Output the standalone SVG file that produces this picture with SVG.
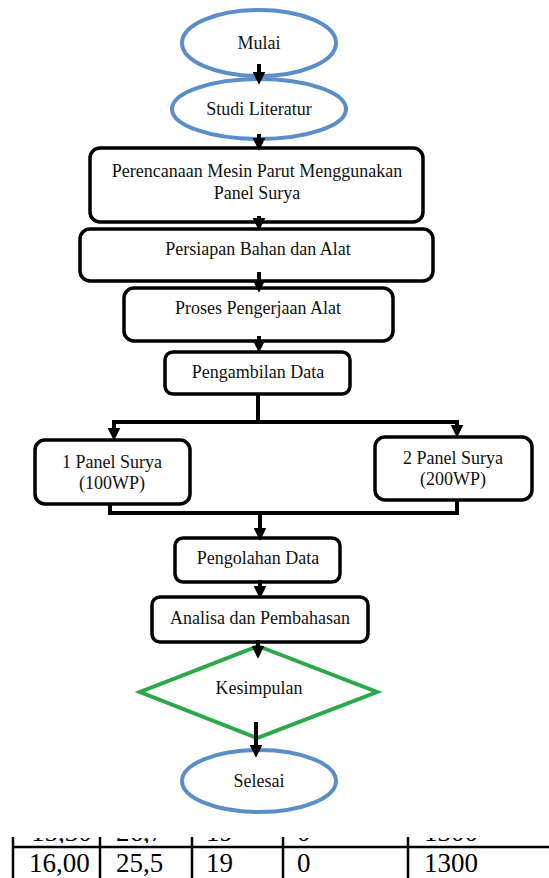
<svg xmlns="http://www.w3.org/2000/svg" width="549" height="878" viewBox="0 0 549 878">
<style>
.term{fill:none;stroke:#5b8dc8;stroke-width:4}
.box{fill:#fff;stroke:#000;stroke-width:3.5}
.dec{fill:none;stroke:#2aa84a;stroke-width:4}
.t{font-family:"Liberation Serif","Times New Roman",serif;font-size:18px;fill:#111;text-anchor:middle}
.tb{font-family:"Liberation Serif","Times New Roman",serif;font-size:27px;fill:#000}
.c{fill:none;stroke:#000;stroke-width:4}
.ca{fill:none;stroke:#000;stroke-width:4;marker-end:url(#ah)}
.grid{stroke:#000;stroke-width:2.5}
</style>
<defs>
<marker id="ah" viewBox="0 0 12 12" refX="4" refY="6" markerWidth="13" markerHeight="13" markerUnits="userSpaceOnUse" orient="auto">
<path d="M0,0 L12,6 L0,12 z" fill="#000"/>
</marker>
<clipPath id="cut"><rect x="0" y="838" width="549" height="5"/></clipPath>
</defs>
<rect width="549" height="878" fill="#fff"/>

<g id="mulai">
<ellipse class="term" cx="259" cy="43" rx="77" ry="33"/>
<text class="t" x="259" y="49">Mulai</text>
</g>
<g id="studi">
<ellipse class="term" cx="259" cy="109" rx="87" ry="30"/>
<text class="t" x="259" y="115">Studi Literatur</text>
</g>
<g id="perencanaan">
<rect class="box" x="90" y="148" width="333" height="74" rx="10"/>
<text class="t" x="257" y="177">Perencanaan Mesin Parut Menggunakan</text>
<text class="t" x="257" y="199">Panel Surya</text>
</g>
<g id="persiapan">
<rect class="box" x="80" y="229" width="353" height="52" rx="10"/>
<text class="t" x="258" y="255">Persiapan Bahan dan Alat</text>
</g>
<g id="proses">
<rect class="box" x="124" y="288" width="269" height="53" rx="10"/>
<text class="t" x="258" y="314">Proses Pengerjaan Alat</text>
</g>
<g id="pengambilan">
<rect class="box" x="165" y="352" width="185" height="42" rx="8"/>
<text class="t" x="258" y="378">Pengambilan Data</text>
</g>
<g id="panel1">
<rect class="box" x="35" y="440" width="155" height="64" rx="10"/>
<text class="t" x="112" y="468">1 Panel Surya</text>
<text class="t" x="112" y="489">(100WP)</text>
</g>
<g id="panel2">
<rect class="box" x="375" y="437" width="157" height="63" rx="10"/>
<text class="t" x="453" y="464">2 Panel Surya</text>
<text class="t" x="453" y="485">(200WP)</text>
</g>
<g id="pengolahan">
<rect class="box" x="175" y="538" width="165" height="44" rx="8"/>
<text class="t" x="258" y="564">Pengolahan Data</text>
</g>
<g id="analisa">
<rect class="box" x="152" y="597" width="216" height="45" rx="8"/>
<text class="t" x="260" y="624">Analisa dan Pembahasan</text>
</g>
<g id="kesimpulan">
<polygon class="dec" points="258,646 377,692 257,738 140,692"/>
<text class="t" x="259" y="694">Kesimpulan</text>
</g>
<g id="selesai">
<ellipse class="term" cx="259" cy="781" rx="77" ry="31"/>
<text class="t" x="259" y="787">Selesai</text>
</g>

<g id="connectors">
<line class="ca" x1="259" y1="64" x2="259" y2="76"/>
<line class="ca" x1="259" y1="134" x2="259" y2="142"/>
<line class="ca" x1="259" y1="216" x2="259" y2="222"/>
<line class="ca" x1="259" y1="272" x2="259" y2="284"/>
<line class="ca" x1="259" y1="336" x2="259" y2="344"/>
<line class="c" x1="258" y1="394" x2="258" y2="422"/>
<line class="c" x1="112" y1="422" x2="459" y2="422"/>
<line class="ca" x1="114" y1="420" x2="114" y2="432"/>
<line class="ca" x1="457" y1="420" x2="457" y2="429"/>
<polyline class="c" points="110,504 110,513 457,513 457,500"/>
<line class="ca" x1="260" y1="511" x2="260" y2="532"/>
<line class="ca" x1="260" y1="580" x2="260" y2="590"/>
<line class="ca" x1="258" y1="640" x2="258" y2="650"/>
<line class="ca" x1="256" y1="722" x2="256" y2="749"/>
</g>

<g id="table">
<line class="grid" x1="12" y1="847" x2="549" y2="847"/>
<line class="grid" x1="13" y1="837" x2="13" y2="878"/>
<line class="grid" x1="100" y1="837" x2="100" y2="878"/>
<line class="grid" x1="192" y1="837" x2="192" y2="878"/>
<line class="grid" x1="283" y1="837" x2="283" y2="878"/>
<line class="grid" x1="408" y1="837" x2="408" y2="878"/>
<g clip-path="url(#cut)">
<text class="tb" x="31" y="841">15,30</text>
<text class="tb" x="116" y="841">26,7</text>
<text class="tb" x="206" y="841">19</text>
<text class="tb" x="297" y="841">0</text>
<text class="tb" x="424" y="841">1300</text>
</g>
<text class="tb" x="29" y="872">16,00</text>
<text class="tb" x="116" y="872">25,5</text>
<text class="tb" x="206" y="872">19</text>
<text class="tb" x="297" y="872">0</text>
<text class="tb" x="424" y="872">1300</text>
</g>
</svg>
